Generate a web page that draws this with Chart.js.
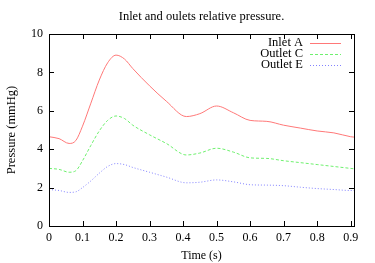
<!DOCTYPE html>
<html>
<head>
<meta charset="utf-8">
<script src="https://cdn.jsdelivr.net/npm/chart.js@4/dist/chart.umd.min.js"></script>
<style>
  html, body { margin: 0; padding: 0; background: #fff; }
  #wrap { width: 375px; height: 263px; }
</style>
</head>
<body>
<div id="wrap"><canvas id="chart"></canvas></div>
<script>
// values
const times   = [0, 0.03, 0.06, 0.08, 0.1, 0.125, 0.15, 0.175, 0.2, 0.225, 0.25, 0.3, 0.35, 0.41, 0.45, 0.5, 0.55, 0.6, 0.65, 0.7, 0.75, 0.8, 0.85, 0.9, 0.91];
const inletA  = [4.65, 4.55, 4.3, 4.45, 5.2, 6.4, 7.6, 8.5, 8.9, 8.7, 8.2, 7.3, 6.5, 5.7, 5.85, 6.25, 5.9, 5.5, 5.45, 5.25, 5.1, 4.95, 4.85, 4.65, 4.63];
const outletC = [3.0, 2.95, 2.8, 2.88, 3.4, 4.2, 4.95, 5.5, 5.73, 5.6, 5.25, 4.75, 4.3, 3.7, 3.8, 4.05, 3.85, 3.55, 3.52, 3.4, 3.3, 3.2, 3.1, 3.0, 2.98];
const outletE = [1.9, 1.85, 1.75, 1.78, 2.0, 2.35, 2.75, 3.1, 3.25, 3.2, 3.05, 2.8, 2.55, 2.25, 2.28, 2.4, 2.3, 2.15, 2.13, 2.1, 2.02, 1.95, 1.9, 1.85, 1.85];
const xTicks = [0, 0.1, 0.2, 0.3, 0.4, 0.5, 0.6, 0.7, 0.8, 0.9];
const yTicks = [0, 2, 4, 6, 8, 10];
const seriesNames = ['Inlet A', 'Outlet C', 'Outlet E'];

const FONT = '"Liberation Serif", "DejaVu Serif", serif';

function pts(ys) {
  return times.map((t, i) => ({ x: t, y: ys[i] }));
}

// frame with inward ticks on all four sides, gnuplot style
const framePlugin = {
  id: 'frame',
  afterDraw(chart) {
    const ctx = chart.ctx;
    const a = chart.chartArea;
    const xs = chart.scales.x, ys = chart.scales.y;
    ctx.save();
    ctx.strokeStyle = '#000';
    ctx.lineWidth = 1;
    ctx.strokeRect(Math.round(a.left) + 0.5, Math.round(a.top) + 0.5,
                   Math.round(a.right - a.left), Math.round(a.bottom - a.top));
    ctx.beginPath();
    xTicks.forEach(v => {
      const px = Math.round(xs.getPixelForValue(v)) + 0.5;
      ctx.moveTo(px, a.bottom); ctx.lineTo(px, a.bottom - 5);
      ctx.moveTo(px, a.top); ctx.lineTo(px, a.top + 5);
    });
    yTicks.forEach(v => {
      const py = Math.round(ys.getPixelForValue(v)) + 0.5;
      ctx.moveTo(a.left, py); ctx.lineTo(a.left + 5, py);
      ctx.moveTo(a.right, py); ctx.lineTo(a.right - 5, py);
    });
    ctx.stroke();

    // title
    ctx.fillStyle = '#000';
    ctx.font = '12.5px ' + FONT;
    ctx.textAlign = 'center';
    ctx.textBaseline = 'middle';
    ctx.fillText('Inlet and oulets relative pressure.', (a.left + a.right) / 2, 17);

    // legend, text right aligned with line sample on the right
    ctx.font = '12.5px ' + FONT;
    ctx.textAlign = 'right';
    chart.data.datasets.forEach((ds, i) => {
      const y = 43 + i * 11;
      ctx.fillStyle = '#000';
      ctx.fillText(ds.label, 303, y);
      ctx.strokeStyle = ds.borderColor;
      ctx.setLineDash(ds.borderDash || []);
      ctx.beginPath();
      ctx.moveTo(310, y + 0.5); ctx.lineTo(341, y + 0.5);
      ctx.stroke();
    });
    ctx.restore();
  }
};

new Chart(document.getElementById('chart'), {
  type: 'line',
  data: {
    datasets: [
      { label: seriesNames[0], data: pts(inletA), borderColor: 'rgb(255,120,120)', borderDash: [] },
      { label: seriesNames[1], data: pts(outletC), borderColor: 'rgb(110,240,110)', borderDash: [3, 2] },
      { label: seriesNames[2], data: pts(outletE), borderColor: 'rgb(130,130,255)', borderDash: [1, 2] }
    ]
  },
  options: {
    responsive: true,
    maintainAspectRatio: false,
    animation: false,
    layout: { padding: { top: 34, right: 21, left: 0, bottom: 0 } },
    elements: {
      point: { radius: 0 },
      line: { borderWidth: 1, cubicInterpolationMode: 'monotone' }
    },
    plugins: {
      legend: { display: false },
      title: { display: false },
      tooltip: { enabled: false }
    },
    scales: {
      x: {
        type: 'linear',
        min: 0,
        max: 0.91,
        afterBuildTicks: s => { s.ticks = xTicks.map(v => ({ value: v })); },
        afterFit: s => { s.height = 37; },
        grid: { display: false, drawTicks: false },
        border: { display: false },
        ticks: {
          padding: 5,
          color: '#000',
          maxRotation: 0,
          font: { family: FONT, size: 12 },
          callback: v => String(Math.round(v * 10) / 10)
        },
        title: {
          display: true,
          text: 'Time (s)',
          color: '#000',
          padding: { top: 2, bottom: 0 },
          font: { family: FONT, size: 12 }
        }
      },
      y: {
        min: 0,
        max: 10,
        afterBuildTicks: s => { s.ticks = yTicks.map(v => ({ value: v })); },
        afterFit: s => { s.width = 49; },
        grid: { display: false, drawTicks: false },
        border: { display: false },
        ticks: {
          padding: 6,
          color: '#000',
          font: { family: FONT, size: 12 }
        },
        title: {
          display: true,
          text: 'Pressure (mmHg)',
          color: '#000',
          padding: { top: 4, bottom: 0 },
          font: { family: FONT, size: 12.5 }
        }
      }
    }
  },
  plugins: [framePlugin]
});
</script>
</body>
</html>
